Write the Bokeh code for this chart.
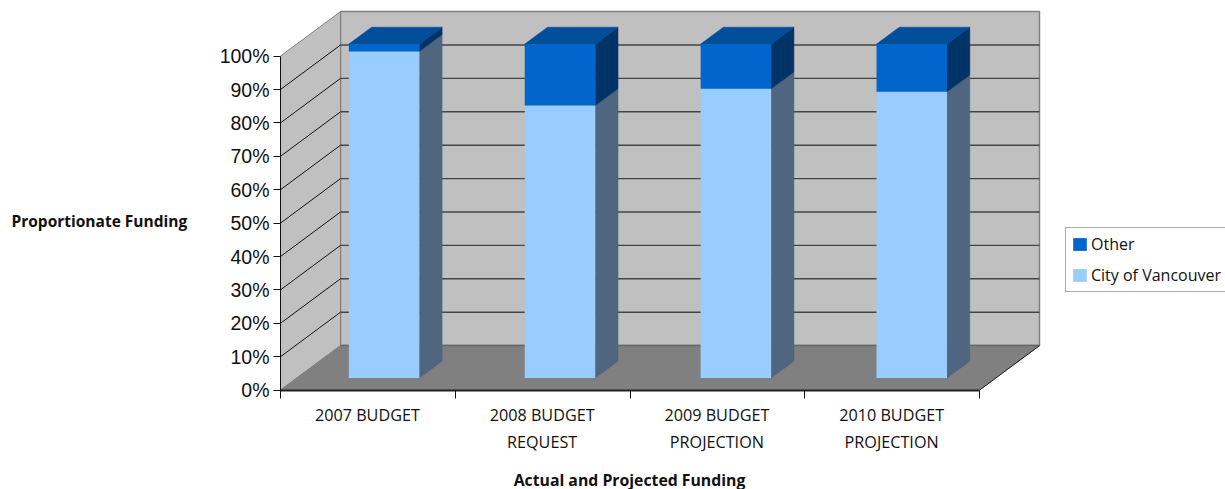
from bokeh.embed import file_html
from bokeh.models import FixedTicker, Label, Legend, LegendItem, LinearAxis, Range1d
from bokeh.plotting import figure
from bokeh.resources import INLINE

categories = [["2007 BUDGET"], ["2008 BUDGET", "REQUEST"],
              ["2009 BUDGET", "PROJECTION"], ["2010 BUDGET", "PROJECTION"]]
city_of_vancouver = [97.8, 81.6, 86.6, 85.7]
other = [2.2, 18.4, 13.4, 14.3]
percent_ticks = [0, 10, 20, 30, 40, 50, 60, 70, 80, 90, 100]

WIDTH, HEIGHT = 1225, 489
LEFT, BASE = 280, 389.6
PX_PER_CAT, PX_PER_PCT = 174.75, 3.34

# Oblique projection: one unit of depth moves a point right and up.
DEPTH_X, DEPTH_Y = 60 / PX_PER_CAT, 44.5 / PX_PER_PCT
BAR_WIDTH = 70.5 / PX_PER_CAT
BAR_PITCH = 175.9 / PX_PER_CAT
BAR_NEAR, BAR_FAR = 0.27, 0.65

WALL, FLOOR, EDGE, GRID = "#c0c0c0", "#808080", "#808080", "#444444"
LIGHT, DARK = "#99ccff", "#0066cc"
LIGHT_SIDE, DARK_SIDE, DARK_TOP = "#4f6580", "#003366", "#004d99"
SANS = "Open Sans"

n = len(categories)


def at_x(cat, depth=0.0):
    return cat + depth * DEPTH_X


def at_y(pct, depth=0.0):
    return pct + depth * DEPTH_Y


def px_x(px):
    return (px - LEFT) / PX_PER_CAT


def px_y(px):
    return (BASE - px) / PX_PER_PCT


p = figure(
    width=WIDTH, height=HEIGHT, output_backend="svg", toolbar_location=None,
    x_range=Range1d(px_x(0), px_x(WIDTH)),
    y_range=Range1d(px_y(HEIGHT), px_y(0)),
    x_axis_location=None, y_axis_location=None,
    min_border=0,
)
p.outline_line_color = None
p.grid.visible = False
p.background_fill_color = "white"

# Back wall, side wall and floor of the chart box
p.patch([at_x(0, 1), at_x(n, 1), at_x(n, 1), at_x(0, 1)],
        [at_y(0, 1), at_y(0, 1), at_y(100, 1), at_y(100, 1)],
        fill_color=WALL, line_color=EDGE, line_width=1.5)
p.patch([at_x(0), at_x(0, 1), at_x(0, 1), at_x(0)],
        [at_y(0), at_y(0, 1), at_y(100, 1), at_y(100)],
        fill_color=WALL, line_color=EDGE, line_width=1)

# Gridlines run along the back wall and across the side wall
inner = percent_ticks[1:-1]
p.segment([at_x(0, 1)] * len(inner), [at_y(v, 1) for v in inner],
          [at_x(n, 1)] * len(inner), [at_y(v, 1) for v in inner],
          line_color=GRID, line_width=1.4)
ribs = percent_ticks[1:-1]
p.segment([at_x(0)] * len(ribs), ribs,
          [at_x(0, 1)] * len(ribs), [at_y(v, 1) for v in ribs],
          line_color="#111111", line_width=1)

p.patch([at_x(0), at_x(n), at_x(n, 1), at_x(0, 1)],
        [at_y(0), at_y(0), at_y(0, 1), at_y(0, 1)],
        fill_color=FLOOR, line_color=FLOOR, line_width=1)
p.segment([at_x(0, 1)], [at_y(0, 1)], [at_x(n, 1)], [at_y(0, 1)],
          line_color="#666666", line_width=1.5)
p.segment([at_x(n)], [at_y(0)], [at_x(n, 1)], [at_y(0, 1)],
          line_color="#222222", line_width=1)

# Stacked columns: side faces and top first, then the front faces
centers = [0.5 + i * BAR_PITCH for i in range(n)]
front_centers = [at_x(c, BAR_NEAR) for c in centers]
front_base = [at_y(0, BAR_NEAR)] * n
front_split = [at_y(v, BAR_NEAR) for v in city_of_vancouver]
front_top = [at_y(a + b, BAR_NEAR) for a, b in zip(city_of_vancouver, other)]
shift_x = (BAR_FAR - BAR_NEAR) * DEPTH_X
shift_y = (BAR_FAR - BAR_NEAR) * DEPTH_Y

right_edges = [c + BAR_WIDTH / 2 for c in front_centers]
left_edges = [c - BAR_WIDTH / 2 for c in front_centers]


def side_faces(lows, highs, color):
    xs = [[r, r + shift_x, r + shift_x, r] for r in right_edges]
    ys = [[lo, lo + shift_y, hi + shift_y, hi] for lo, hi in zip(lows, highs)]
    p.patches(xs, ys, fill_color=color, line_color=color, line_width=0.5)


side_faces(front_base, front_split, LIGHT_SIDE)
side_faces(front_split, front_top, DARK_SIDE)
p.patches([[l, r, r + shift_x, l + shift_x] for l, r in zip(left_edges, right_edges)],
          [[t, t, t + shift_y, t + shift_y] for t in front_top],
          fill_color=DARK_TOP, line_color=DARK_TOP, line_width=0.5)

city_bars = p.vbar(x=front_centers, width=BAR_WIDTH, bottom=front_base, top=front_split,
                   fill_color=LIGHT, line_color=None)
other_bars = p.vbar(x=front_centers, width=BAR_WIDTH, bottom=front_split, top=front_top,
                    fill_color=DARK, line_color=None)

# Value axis, pinned to the front-left corner of the box
y_axis = LinearAxis(
    fixed_location=0, bounds=(0, 100),
    ticker=FixedTicker(ticks=percent_ticks),
    major_label_overrides={v: f"{v}%" for v in percent_ticks},
    minor_tick_line_color=None, major_tick_in=0, major_tick_out=7,
    major_tick_line_color="#111111", axis_line_color="#111111",
    major_label_standoff=4, major_label_text_font="Liberation Sans",
    major_label_text_font_size="19.5px", major_label_text_color="#111111",
)
p.add_layout(y_axis, "left")

# Category axis: ticks bound the slots, names are set below them
x_axis = LinearAxis(
    fixed_location=0, bounds=(0, n),
    ticker=FixedTicker(ticks=list(range(n + 1))),
    major_label_overrides={i: "" for i in range(n + 1)},
    major_tick_in=0, major_tick_out=8, major_tick_line_color="#111111",
    minor_tick_line_color=None, axis_line_color="#222222", axis_line_width=2,
)
p.add_layout(x_axis, "below")


def caption(text, x_px, y_px, size, bold=False, align="center"):
    p.add_layout(Label(
        x=px_x(x_px), y=px_y(y_px), text=text, text_font=SANS,
        text_font_size=size, text_color="#111111",
        text_font_style="bold" if bold else "normal",
        text_align=align, text_baseline="middle",
    ))


for i, lines in enumerate(categories):
    for j, line in enumerate(lines):
        caption(line, LEFT + (i + 0.5) * PX_PER_CAT - 0.5, 414 + 27 * j, "16.2px")

caption("Proportionate Funding", 11, 220, "15.5px", bold=True, align="left")
caption("Actual and Projected Funding", 629, 479, "15.8px", bold=True)

legend = Legend(
    items=[LegendItem(label="Other", renderers=[other_bars]),
           LegendItem(label="City of Vancouver", renderers=[city_bars])],
    location=(1065, HEIGHT - 292), orientation="vertical",
    glyph_width=17, glyph_height=16, label_standoff=3, spacing=9,
    padding=5, margin=0, label_text_font=SANS, label_text_font_size="16px",
    label_text_color="#111111", label_height=13, border_line_color="#555555",
    border_line_width=1, background_fill_color="white", background_fill_alpha=1,
)
p.add_layout(legend)

open("out.html", "w").write(file_html(p, INLINE))
